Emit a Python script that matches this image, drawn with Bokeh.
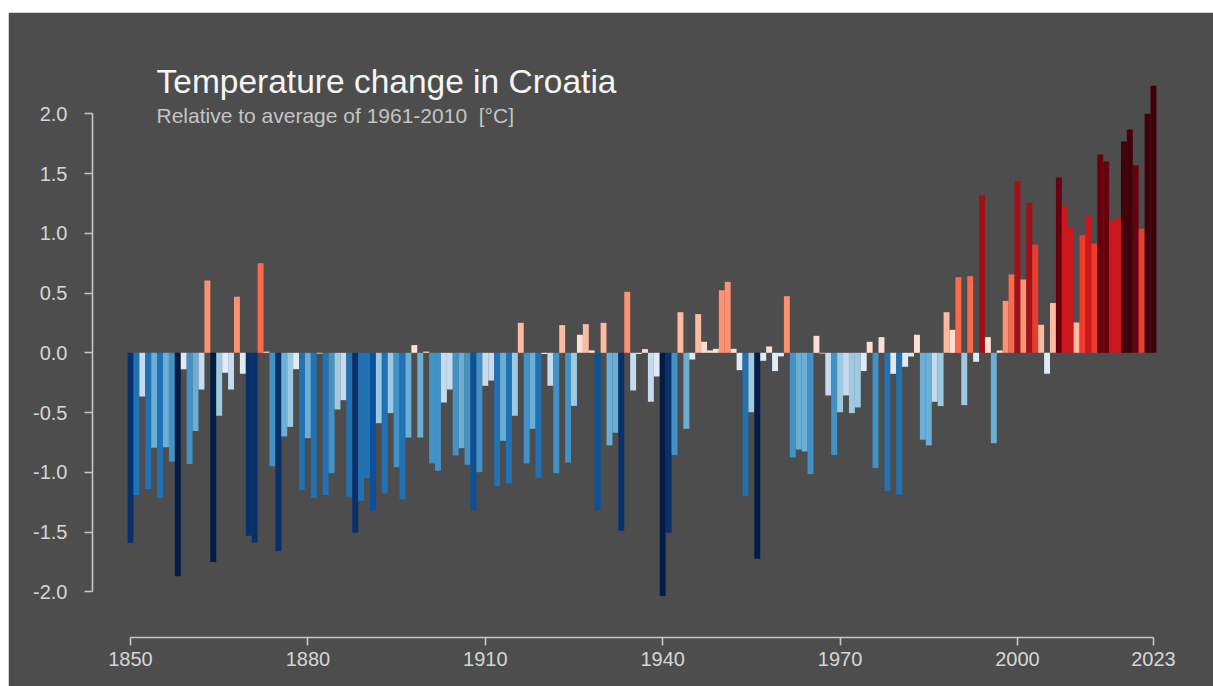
from bokeh.plotting import figure
from bokeh.models import ColumnDataSource, Range1d, FixedTicker, PrintfTickFormatter, Label
from bokeh.transform import linear_cmap
from bokeh.embed import file_html
from bokeh.resources import INLINE

# ---- data -------------------------------------------------------------
years = list(range(1850, 2024))

anomaly = [
    # 1850-1859
    -1.59, -1.19, -0.365, -1.14, -0.795, -1.21, -0.79, -0.91, -1.87, -0.137,
    # 1860-1869
    -0.93, -0.655, -0.307, 0.605, -1.75, -0.527, -0.167, -0.307, 0.47, -0.176,
    # 1870-1879
    -1.53, -1.59, 0.75, 0.01, -0.95, -1.66, -0.70, -0.62, -0.137, -1.146,
    # 1880-1889
    -0.714, -1.216, -0.006, -1.19, -1.007, -0.474, -0.396, -1.205, -1.506, -1.238,
    # 1890-1899
    -1.049, -1.319, -0.589, -1.177, -0.505, -0.957, -1.227, -0.709, 0.064, -0.709,
    # 1900-1909
    0.01, -0.926, -0.987, -0.416, -0.307, -0.859, -0.798, -0.937, -1.319, -0.999,
    # 1910-1919
    -0.276, -0.232, -1.116, -0.736, -1.093, -0.527, 0.251, -0.926, -0.636, -1.046,
    # 1920-1929
    -0.01, -0.276, -1.007, 0.232, -0.918, -0.444, 0.151, 0.240, 0.02, -1.317,
    # 1930-1939
    0.251, -0.775, -0.669, -1.49, 0.510, -0.315, -0.01, 0.031, -0.41, -0.198,
    # 1940-1949
    -2.036, -1.506, -0.856, 0.34, -0.636, -0.056, 0.324, 0.092, 0.02, 0.033,
    # 1950-1959
    0.524, 0.594, 0.033, -0.145, -1.197, -0.497, -1.724, -0.067, 0.053, -0.153,
    # 1960-1969
    -0.03, 0.474, -0.876, -0.809, -0.826, -1.015, 0.142, -0.006, -0.357, -0.856,
    # 1970-1979
    -0.497, -0.357, -0.505, -0.457, -0.153, 0.092, -0.965, 0.131, -1.158, -0.176,
    # 1980-1989
    -1.188, -0.117, -0.031, 0.151, -0.728, -0.775, -0.41, -0.446, 0.34, 0.192,
    # 1990-1999
    0.633, -0.438, 0.642, -0.075, 1.317, 0.131, -0.757, 0.02, 0.435, 0.656,
    # 2000-2009
    1.437, 0.614, 1.255, 0.907, 0.234, -0.176, 0.416, 1.467, 1.227, 1.046,
    # 2010-2019
    0.254, 0.985, 1.146, 0.915, 1.66, 1.60, 1.107, 1.127, 1.768, 1.869,
    # 2020-2023
    1.568, 1.038, 2.0, 2.234,
]

x_tick_years = [1850, 1880, 1910, 1940, 1970, 2000, 2023]
y_tick_values = [-2.0, -1.5, -1.0, -0.5, 0.0, 0.5, 1.0, 1.5, 2.0]

title_text = "Temperature change in Croatia"
subtitle_text = "Relative to average of 1961-2010\u00a0 [°C]"

# ---- style ------------------------------------------------------------
BG = "#4d4d4d"
AXIS_COL = "#c8c8c8"
LABEL_COL = "#d6d6d6"
FONT = "Liberation Sans"

stripe_palette = [
    "#021c46", "#08306b", "#08519c", "#2171b5", "#4292c6", "#6baed6",
    "#9ecae1", "#c6dbef", "#deebf7",
    "#fee0d2", "#fcbba1", "#fc9272", "#fb6a4a", "#ef3b2c", "#cb181d",
    "#a50f15", "#67000d", "#42000a",
]
step = 0.2085
n_half = len(stripe_palette) // 2

source = ColumnDataSource(data=dict(year=years, value=anomaly))

p = figure(
    width=1205, height=674, margin=(12, 0, 0, 8),
    x_range=Range1d(1843.573, 2029.26),
    y_range=Range1d(-2.3824, 2.7808),
    output_backend="svg", toolbar_location=None,
    min_border_left=84, min_border_right=23,
    min_border_top=8, min_border_bottom=49,
    background_fill_color=BG, border_fill_color=BG,
    outline_line_color=BG, outline_line_width=3,
)
p.xgrid.visible = False
p.ygrid.visible = False

p.vbar(
    x="year", top="value", bottom=0, width=1.0, source=source,
    fill_color=linear_cmap("value", stripe_palette, low=-n_half * step, high=n_half * step,
                           low_color=stripe_palette[0], high_color=stripe_palette[-1]),
    line_color=None,
)

# axes
xa = p.xaxis[0]
xa.ticker = FixedTicker(ticks=x_tick_years)
xa.bounds = (x_tick_years[0], x_tick_years[-1])
ya = p.yaxis[0]
ya.ticker = FixedTicker(ticks=y_tick_values)
ya.bounds = (y_tick_values[0], y_tick_values[-1])
ya.formatter = PrintfTickFormatter(format="%.1f")

for ax, standoff in ((xa, 6), (ya, 17)):
    ax.axis_line_color = AXIS_COL
    ax.axis_line_width = 1.6
    ax.major_tick_line_color = AXIS_COL
    ax.major_tick_line_width = 1.6
    ax.major_tick_out = 8
    ax.major_tick_in = 0
    ax.minor_tick_line_color = None
    ax.major_label_text_color = LABEL_COL
    ax.major_label_text_font = FONT
    ax.major_label_text_font_size = "20px"
    ax.major_label_standoff = standoff

# title / subtitle inside the plot area
p.add_layout(Label(x=1854.4, y=2.273, text=title_text, text_font=FONT,
                   text_font_size="33.5px", text_color="#f5f5f5",
                   text_baseline="alphabetic", text_align="left"))
p.add_layout(Label(x=1854.4, y=1.989, text=subtitle_text, text_font=FONT,
                   text_font_size="21px", text_color="#c4c4c4",
                   text_baseline="alphabetic", text_align="left"))

open("out.html", "w").write(file_html(p, INLINE))
